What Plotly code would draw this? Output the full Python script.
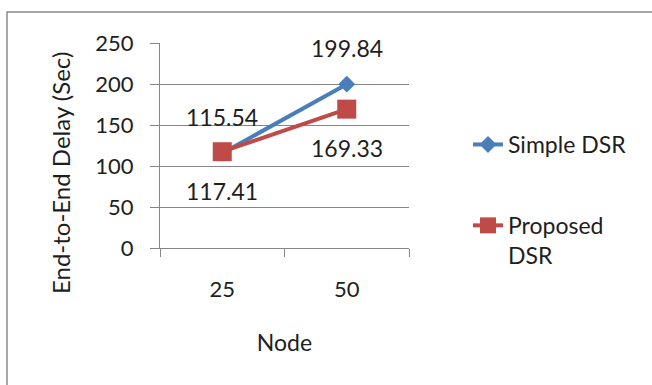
import plotly.graph_objects as go

categories = ["25", "50"]
simple_dsr = [115.54, 199.84]
proposed_dsr = [117.41, 169.33]
y_ticks = [0, 50, 100, 150, 200, 250]

FONT = "Lato"
TXT = "#1E1E1E"
W, H = 652, 385
L, R, T, B = 160, 243, 43, 137
pw, ph = W - L - R, H - T - B

fig = go.Figure()
fig.add_trace(go.Scatter(
    x=categories, y=simple_dsr, name="Simple DSR", mode="lines+markers",
    line=dict(color="#4A7EBB", width=4),
    marker=dict(symbol="diamond", size=13, color="#4A7EBB"),
    legendgroup="a",
))
fig.add_trace(go.Scatter(
    x=categories, y=proposed_dsr, name="Proposed<br>DSR", mode="lines+markers",
    line=dict(color="#BE4B48", width=4),
    marker=dict(symbol="square", size=19, color="#BE4B48"),
    legendgroup="b",
))

for i, v in enumerate(simple_dsr):
    fig.add_annotation(x=i, y=v, xref="x", yref="y", text=f"{v:.2f}", showarrow=False,
                       yshift=36, font=dict(size=23, color=TXT, family=FONT))
for i, v in enumerate(proposed_dsr):
    fig.add_annotation(x=i, y=v, xref="x", yref="y", text=f"{v:.2f}", showarrow=False,
                       yshift=-39, font=dict(size=23, color=TXT, family=FONT))

# y-axis title (placed like the original, lower than plot-area centre)
fig.add_annotation(xref="paper", yref="paper", x=(60 - L) / pw, y=1 - (173 - T) / ph,
                   text="End-to-End Delay (Sec)", textangle=-90, showarrow=False,
                   xanchor="center", yanchor="middle",
                   font=dict(size=24, color=TXT, family=FONT))

# outer chart border
bx0 = (7 - L) / pw
by1 = 1 + (T - 12) / ph
fig.add_shape(type="rect", xref="paper", yref="paper",
              x0=bx0, x1=1 + (R + 5) / pw, y0=-(B + 5) / ph, y1=by1,
              line=dict(color="#8A8A8A", width=1.5), layer="below")

fig.update_layout(
    width=W, height=H,
    margin=dict(l=L, r=R, t=T, b=B),
    paper_bgcolor="white", plot_bgcolor="white",
    font=dict(family=FONT, size=23, color=TXT),
    showlegend=True,
    legend=dict(x=1 + (468 - 409) / pw, y=1 - (123 - T) / ph, xanchor="left", yanchor="top",
                tracegroupgap=48, valign="top", font=dict(size=23, family=FONT, color=TXT),
                bgcolor="rgba(0,0,0,0)"),
)
fig.update_xaxes(
    type="category", range=[-0.5, 1.5],
    showline=True, linecolor="#868686", linewidth=1,
    ticks="outside", tickson="boundaries", ticklen=8, tickcolor="#868686",
    showgrid=False, ticklabelstandoff=22, tickfont=dict(size=22),
    title=dict(text="Node", standoff=33, font=dict(size=23)),
)
fig.update_yaxes(
    range=[0, 250], tickvals=y_ticks,
    showline=True, linecolor="#868686", linewidth=1,
    ticks="outside", ticklen=9, tickcolor="#868686",
    showgrid=True, gridcolor="#868686", gridwidth=1,
    zeroline=False, ticklabelstandoff=12, tickfont=dict(size=22),
)
fig.write_html("out.html", config={"displayModeBar": False},
               post_script="document.body.style.margin='0';")
